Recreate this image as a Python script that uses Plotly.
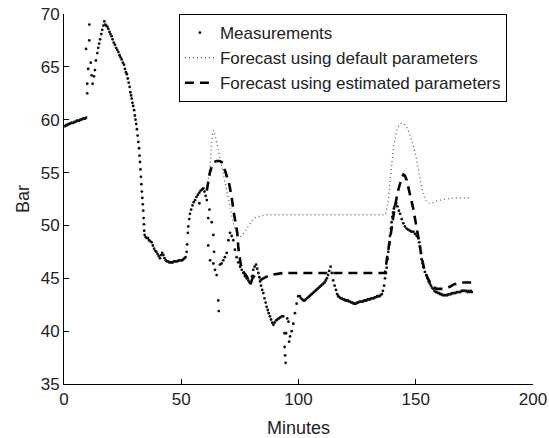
import plotly.graph_objects as go

# ---------------- data ----------------
# Measurements: minutes / bar, listed segment by segment (one line of t <-> one line of bar)
meas_t = [
    0.2, 0.6, 1.0, 1.5, 2.0, 2.5, 3.0, 3.5, 4.0, 4.5, 5.0, 5.5, 6.0, 6.5, 7.0, 7.5, 8.0, 8.5, 9.0, 9.4,
    9.4, 9.9, 9.9, 10.3, 10.8, 10.8, 11.4, 11.8, 12.2, 12.8, 13.2,
    13.6, 14.2, 14.6, 15.0, 15.4, 15.9, 16.3, 16.8, 17.2,
    17.6, 18.0, 18.5, 18.9, 19.4, 19.8, 20.3, 20.7, 21.2, 21.7, 22.2, 22.7, 23.2, 23.7, 24.1, 24.6,
    25.1, 25.6, 26.0, 26.4, 26.8, 27.2, 27.6, 28.0, 28.3, 28.6, 28.9, 29.2, 29.5, 29.9, 30.2, 30.5,
    30.8, 31.1, 31.4, 31.7, 32.0, 32.2, 32.4, 32.6, 32.8, 33.0, 33.2, 33.4, 33.6, 33.8, 33.95, 34.1,
    34.2, 34.4, 34.8, 35.3, 35.8, 36.3, 36.8, 37.4, 37.9, 38.4, 38.9, 39.4, 39.9, 40.4, 40.9, 41.4,
    41.9, 42.4, 42.9,
    43.4, 43.9, 44.4, 44.9, 45.4, 45.9, 46.4, 46.9, 47.4, 47.9, 48.4, 48.9, 49.4, 49.9, 50.4, 50.9, 51.4, 51.8,
    52.3, 52.5, 52.8, 53.0, 53.4, 53.7, 54.2, 54.8, 55.3, 55.9, 56.5, 57.1, 57.7, 58.3, 58.9, 59.4, 59.9, 60.4, 60.9,
    57.7, 61.5, 63.0, 63.7, 61.5, 62.3, 63.7, 64.4, 65.1, 65.8, 66.0, 62.0, 64.0,
    66.5, 67.2, 67.9, 68.6, 69.4, 70.1, 70.8, 71.5, 72.2, 72.9, 73.6, 74.3, 75.1, 75.8, 76.5, 77.2,
    77.9, 78.6, 79.1, 79.6, 80.2, 80.7, 81.3, 81.9, 82.4, 82.9, 83.3, 83.6, 84.0, 84.5, 85.0, 85.5,
    86.0, 86.4, 86.9, 87.3, 87.8, 88.3, 88.8, 89.3, 89.8, 90.4, 91.0, 91.6, 92.2, 92.9, 93.5,
    94.0, 94.1, 94.3, 94.5, 94.7, 95.2, 95.7, 96.0, 96.4,
    97.1, 97.8, 98.5, 99.2, 99.9,
    100.6, 101.1, 101.6, 102.1, 102.6, 103.1, 103.6, 104.1, 104.6, 105.1, 105.6, 106.1, 106.6,
    107.1, 107.6, 108.1, 108.6, 109.1, 109.6, 110.1, 110.6, 111.1, 111.6, 112.1, 112.6, 113.1,
    113.7, 114.2, 114.8, 115.4, 116.0, 116.5,
    117.0, 117.5, 118.0, 118.5, 119.0, 119.5, 120.0, 120.5, 121.0, 121.5, 122.0, 122.5, 123.0,
    123.5, 124.0, 124.5, 125.0, 125.5, 126.0, 126.5, 127.0, 127.5, 128.0, 128.5, 129.0, 129.5,
    130.0, 130.5, 131.0, 131.5, 132.0, 132.5, 133.0, 133.5, 134.0, 134.5, 135.0, 135.5, 136.0,
    136.5, 136.9, 137.3, 137.6, 138.0, 138.3, 138.7, 139.0, 139.4, 139.7, 140.0, 140.3, 140.7,
    141.0, 141.6, 142.2, 142.8, 143.3, 144.0, 144.7, 145.4, 146.1, 146.8, 147.5, 148.2,
    149.0, 149.7, 150.4, 151.1, 151.5, 151.8, 152.2, 152.5, 152.9, 153.2, 153.9, 154.5,
    155.0, 155.5, 156.0, 156.5, 157.0, 157.5, 158.0, 158.5, 159.0, 159.5,
    160.0, 160.5, 161.0, 161.5, 162.0, 162.5, 163.0, 163.5, 164.0, 164.5,
    165.0, 165.5, 166.0, 166.5, 167.0, 167.5, 168.0, 168.5, 169.0, 169.5,
    170.0, 170.5, 171.0, 171.5, 172.0, 172.5, 173.0, 173.5, 173.9,
]
meas_bar = [
    59.4, 59.4, 59.5, 59.5, 59.6, 59.6, 59.7, 59.7, 59.7, 59.8, 59.8, 59.9, 59.9, 59.9, 60.0, 60.0, 60.1, 60.1, 60.1, 60.2,
    66.7, 62.5, 63.4, 64.8, 69.0, 67.5, 65.4, 64.2, 63.4, 64.1, 64.7,
    65.6, 66.3, 66.8, 67.2, 67.6, 68.1, 68.5, 68.9, 69.3,
    69.0, 68.9, 68.8, 68.6, 68.3, 68.1, 67.9, 67.6, 67.3, 67.1, 66.8, 66.6, 66.4, 66.1, 65.9, 65.7,
    65.4, 65.2, 64.8, 64.5, 64.3, 63.9, 63.5, 63.1, 62.6, 62.3, 62.0, 61.6, 61.3, 60.9, 60.4, 60.0,
    59.6, 59.1, 58.5, 57.9, 57.3, 56.6, 56.0, 55.3, 54.6, 53.9, 53.2, 52.6, 52.0, 51.4, 50.7, 50.1,
    49.5, 49.1, 48.9, 48.8, 48.8, 48.6, 48.5, 48.4, 48.1, 47.8, 47.6, 47.5, 47.3, 47.1, 46.9, 47.2,
    47.4, 47.2, 46.9,
    46.7, 46.6, 46.6, 46.5, 46.5, 46.5, 46.5, 46.6, 46.6, 46.6, 46.6, 46.7, 46.7, 46.7, 46.7, 46.8, 46.9, 47.0,
    47.5, 48.2, 49.3, 49.9, 50.6, 51.1, 51.5, 51.9, 52.2, 52.4, 52.7, 52.9, 53.1, 53.3, 53.4, 53.5, 53.2, 52.8, 52.4,
    52.1, 50.7, 50.3, 49.1, 48.1, 46.7, 46.4, 45.8, 45.3, 42.9, 41.9, 51.5, 47.5,
    46.3, 46.4, 46.7, 47.0, 47.4, 48.6, 49.3, 49.0, 48.6, 47.7, 47.0, 46.5, 46.1, 45.8, 45.5, 45.2,
    45.0, 44.8, 44.6, 44.5, 45.2, 45.8, 46.1, 46.3, 45.9, 45.5, 45.1, 44.7, 44.3, 43.9, 43.6, 43.1,
    42.7, 42.3, 42.0, 41.7, 41.4, 41.1, 40.8, 40.6, 40.8, 41.0, 41.1, 41.2, 41.3, 41.4, 41.4,
    39.8, 38.5, 37.7, 37.0, 39.8, 41.2, 40.9, 39.0, 39.5,
    40.0, 40.7, 41.7, 42.6, 43.3,
    43.3, 43.1, 43.0, 42.9, 42.9, 43.0, 43.1, 43.2, 43.3, 43.4, 43.5, 43.6, 43.7,
    43.8, 43.9, 44.0, 44.1, 44.2, 44.3, 44.4, 44.5, 44.6, 44.8, 45.0, 45.3, 45.7,
    46.1, 45.5, 44.8, 44.3, 43.9, 43.5,
    43.3, 43.2, 43.1, 43.1, 43.0, 43.0, 42.9, 42.9, 42.9, 42.8, 42.8, 42.7, 42.7,
    42.6, 42.6, 42.6, 42.7, 42.7, 42.8, 42.8, 42.8, 42.8, 42.9, 42.9, 42.9, 43.0,
    43.0, 43.0, 43.1, 43.1, 43.1, 43.2, 43.2, 43.3, 43.3, 43.3, 43.4, 43.5, 43.8,
    44.3, 45.0, 45.5, 46.0, 46.8, 47.5, 48.2, 49.0, 49.7, 50.3, 50.8, 51.2, 51.6,
    51.8, 52.1, 51.8, 51.4, 51.1, 50.6, 50.2, 49.9, 49.7, 49.6, 49.5, 49.4,
    49.4, 49.2, 49.0, 48.8, 48.4, 48.0, 47.4, 46.8, 46.4, 46.1, 45.6, 45.3,
    45.0, 44.7, 44.5, 44.3, 44.1, 44.0, 43.8, 43.7, 43.7, 43.6,
    43.6, 43.5, 43.5, 43.4, 43.4, 43.4, 43.4, 43.4, 43.5, 43.5,
    43.5, 43.6, 43.6, 43.6, 43.6, 43.7, 43.7, 43.7, 43.7, 43.8,
    43.8, 43.8, 43.8, 43.8, 43.7, 43.8, 43.7, 43.8, 43.7,
]

default_t = [
    60.9, 61.5, 62.3, 63.0, 63.7, 64.4, 65.1, 65.8, 66.5, 67.2, 67.9, 68.7, 69.4, 70.1, 70.8, 71.5,
    72.2, 72.9, 73.6, 74.3, 75.1, 76.1, 77.2, 78.2, 79.3, 80.7, 82.2, 84.3, 86.4, 100.0, 120.0,
    136.9, 137.6, 138.3, 138.8, 139.3, 139.8, 140.4, 141.1, 141.9, 142.9, 144.0, 145.0, 146.1,
    147.2, 148.3, 149.4, 150.4, 151.1, 151.8, 152.5, 153.2, 153.9, 154.7, 155.7, 156.8, 158.5,
    160.3, 163.0, 166.0, 170.0, 173.1,
]
default_bar = [
    53.3, 54.3, 55.6, 58.1, 59.0, 58.6, 57.8, 57.0, 56.2, 55.5, 54.9, 54.1, 53.3, 52.4, 51.5, 50.8,
    50.2, 49.7, 49.3, 49.0, 48.9, 49.1, 49.4, 49.8, 50.2, 50.6, 50.8, 50.9, 51.0, 51.0, 51.0,
    51.0, 51.5, 52.4, 53.6, 54.9, 56.0, 57.1, 58.1, 59.0, 59.5, 59.7, 59.6, 59.3,
    58.8, 58.1, 57.2, 56.2, 55.2, 54.3, 53.6, 53.0, 52.6, 52.2, 52.1, 52.1, 52.3,
    52.4, 52.5, 52.6, 52.6, 52.6,
]

estimated_t = [
    60.9, 61.5, 62.2, 63.0, 64.0, 65.1, 66.2, 67.2, 68.0, 68.8, 69.5, 70.1, 70.8, 71.5, 72.2, 72.8,
    73.3, 73.9, 74.3, 74.7, 75.1, 75.8, 76.8, 77.9, 78.8, 79.6, 80.2, 80.7, 81.5, 82.5, 83.6, 85.0,
    87.8, 90.0, 93.5, 100.0, 113.4, 125.0, 136.9, 137.6, 138.3, 139.0, 139.7, 140.4, 141.1, 141.9,
    142.6, 143.3, 144.0, 144.7, 145.4, 146.1, 146.8, 147.5, 148.2, 149.0, 149.7, 150.4, 151.1, 151.8,
    152.5, 153.2, 153.9, 154.7, 156.1, 157.5, 158.9, 160.3, 161.8, 163.2, 164.6, 166.0, 167.5, 168.9,
    170.3, 171.7, 173.9,
]
estimated_bar = [
    53.3, 54.2, 55.0, 55.6, 56.0, 56.1, 56.1, 56.0, 55.6, 55.1, 54.6, 54.3, 53.5, 52.7, 51.5, 50.7,
    50.2, 49.3, 48.0, 47.2, 46.7, 45.8, 45.5, 45.2, 44.8, 44.5, 44.9, 45.2, 45.1, 44.9, 44.8, 45.0,
    45.3, 45.4, 45.5, 45.5, 45.5, 45.5, 45.5, 46.7, 47.6, 48.6, 49.7, 50.8, 51.8, 52.7,
    53.4, 54.0, 54.5, 54.8, 54.7, 54.3, 53.7, 53.0, 52.3, 51.5, 50.7, 49.9, 49.0, 48.0,
    47.0, 46.1, 45.6, 45.2, 44.6, 44.2, 44.0, 44.0, 44.0, 44.1, 44.2, 44.4, 44.5, 44.5,
    44.6, 44.6, 44.6,
]

assert len(meas_t) == len(meas_bar)
assert len(default_t) == len(default_bar)
assert len(estimated_t) == len(estimated_bar)

x_ticks = [0, 50, 100, 150, 200]
y_ticks = [35, 40, 45, 50, 55, 60, 65, 70]

FONT = "Liberation Sans, Arial, Helvetica, sans-serif"

fig = go.Figure()
fig.add_trace(go.Scatter(
    x=meas_t, y=meas_bar, mode="markers", name="Measurements",
    marker=dict(size=2.8, color="#111111", line=dict(width=0)),
))
fig.add_trace(go.Scatter(
    x=default_t, y=default_bar, mode="lines", name="Forecast using default parameters",
    line=dict(color="#555555", width=1.2, dash="1px,3px"),
))
fig.add_trace(go.Scatter(
    x=estimated_t, y=estimated_bar, mode="lines", name="Forecast using estimated parameters",
    line=dict(color="#000000", width=2.6, dash="9px,6px"),
))

axis_common = dict(
    showline=True, linecolor="black", linewidth=1, mirror=False,
    ticks="inside", ticklen=5, tickcolor="black", tickwidth=1,
    showgrid=False, zeroline=False, automargin=False,
    tickfont=dict(family=FONT, size=17, color="#222222"),
)
fig.update_xaxes(
    range=[0, 200], tickvals=x_ticks, ticktext=[str(v) for v in x_ticks],
    title=dict(text="Minutes", font=dict(family=FONT, size=18, color="#222222"), standoff=12),
    **axis_common,
)
fig.update_yaxes(
    range=[35, 70], tickvals=y_ticks, ticktext=[str(v) for v in y_ticks],
    title=dict(text="Bar", font=dict(family=FONT, size=18, color="#222222"), standoff=6),
    **axis_common,
)
fig.update_layout(
    width=549, height=438,
    margin=dict(l=64, r=16, t=14, b=54),
    paper_bgcolor="white", plot_bgcolor="white",
    font=dict(family=FONT, color="#222222"),
    legend=dict(
        x=0.245, y=1.0, xanchor="left", yanchor="top",
        bgcolor="white", bordercolor="black", borderwidth=1,
        font=dict(family=FONT, size=17, color="#222222"),
        tracegroupgap=0,
    ),
)

fig.write_html("out.html")
